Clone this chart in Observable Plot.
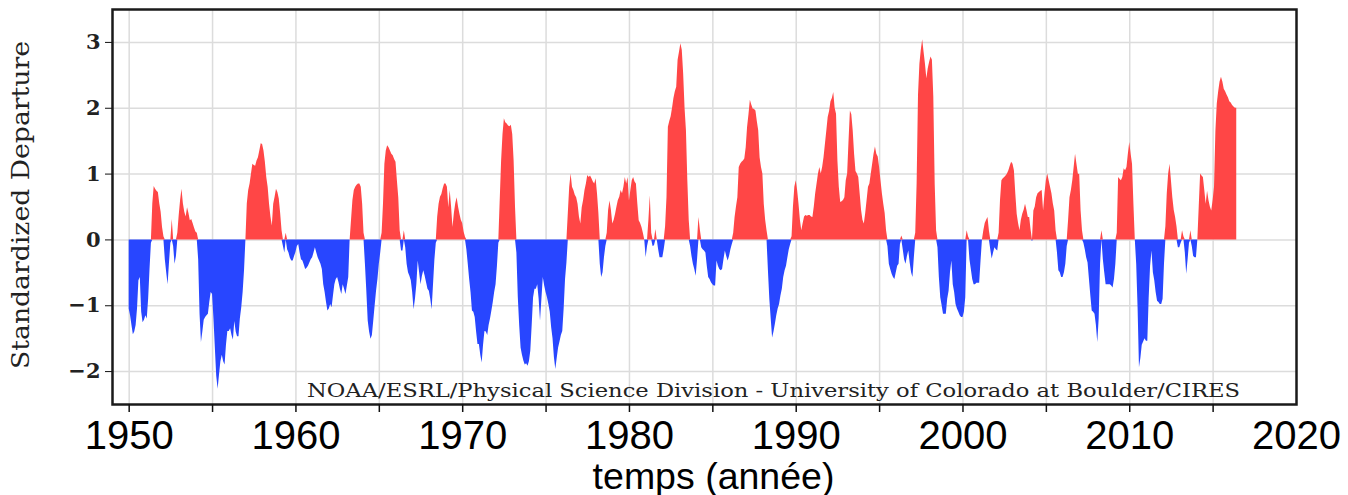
<!DOCTYPE html>
<html>
<head>
<meta charset="utf-8">
<script src="https://cdn.jsdelivr.net/npm/d3@7"></script>
<script src="https://cdn.jsdelivr.net/npm/@observablehq/plot@0.6"></script>
<style>
  html, body { margin: 0; padding: 0; background: #fff; }
  #chart { width: 1348px; height: 495px; overflow: hidden; }
</style>
</head>
<body>
<div id="chart"></div>
<script>
// ---- Data (monthly standardized departures) ----
const startYear = 1950;

const mei1950s = [
  -1.05,-1.15,-1.30,-1.44,-1.40,-1.30,-1.05,-0.62,-0.57,-1.10,-1.26,-1.22, // 1950
  -1.15,-1.20,-0.90,-0.45,-0.05, 0.55, 0.81, 0.77, 0.74, 0.72, 0.55, 0.42, // 1951
   0.19, 0.05,-0.30,-0.50,-0.68,-0.35,-0.05, 0.31,-0.10,-0.37,-0.25, 0.10, // 1952
   0.37, 0.60, 0.77, 0.55, 0.42, 0.35, 0.49, 0.40, 0.29, 0.31, 0.25, 0.18, // 1953
   0.12, 0.10,-0.30,-1.13,-1.56,-1.40,-1.22,-1.18,-1.15,-1.13,-0.95,-0.80, // 1954
  -0.83,-1.20,-1.64,-2.07,-2.27,-2.05,-1.85,-1.75,-1.85,-1.90,-1.60,-1.39, // 1955
  -1.39,-1.35,-1.45,-1.52,-1.24,-1.40,-1.47,-1.47,-1.20,-1.03,-0.80,-0.47, // 1956
   0.00, 0.55, 0.75, 0.85, 1.00, 1.15, 1.13, 1.12, 1.20, 1.25, 1.35, 1.46, // 1957
   1.45, 1.35, 1.18, 0.95, 0.80, 0.54, 0.35, 0.21, 0.54, 0.65, 0.77, 0.72, // 1958
   0.62, 0.40, 0.14,-0.10,-0.20, 0.10,-0.15,-0.20,-0.28,-0.32,-0.32,-0.25  // 1959
];
const mei1960s = [
  -0.19,-0.10,-0.07,-0.20,-0.30,-0.32,-0.38,-0.45,-0.43,-0.40,-0.35,-0.30, // 1960
  -0.27,-0.20,-0.12,-0.20,-0.27,-0.32,-0.37,-0.45,-0.68,-0.80,-0.95,-1.08, // 1961
  -1.05,-0.98,-1.03,-0.85,-0.68,-0.60,-0.57,-0.65,-0.75,-0.83,-0.68,-0.75, // 1962
  -0.83,-0.70,-0.57, 0.00, 0.30, 0.60, 0.75, 0.80, 0.83, 0.85, 0.85, 0.80, // 1963
   0.54, 0.10,-0.37,-0.78,-1.23,-1.40,-1.51,-1.45,-1.23,-1.00,-0.78,-0.60, // 1964
  -0.37,-0.20, 0.10, 0.54, 1.15, 1.35, 1.43, 1.40, 1.35, 1.30, 1.28, 1.22, // 1965
   1.18, 0.90, 0.64, 0.14,-0.17,-0.17, 0.14,-0.12,-0.37,-0.50,-0.55,-0.62, // 1966
  -0.80,-1.06,-0.90,-0.68,-0.32,-0.50,-0.68,-0.55,-0.47,-0.55,-0.65,-0.75, // 1967
  -0.78,-0.90,-1.06,-0.68,-0.30,-0.05, 0.35, 0.54, 0.65, 0.69, 0.78, 0.85, // 1968
   0.85, 0.80, 0.49, 0.75, 0.50, 0.19, 0.40, 0.55, 0.64, 0.50, 0.39, 0.30  // 1969
];
const mei1970s = [
   0.25, 0.12, 0.04,-0.15,-0.37,-0.60,-0.80,-1.08,-1.10,-1.18,-1.40,-1.59, // 1970
  -1.59,-1.75,-1.87,-1.60,-1.39,-1.40,-1.45,-1.30,-1.20,-1.08,-0.95,-0.80, // 1971
  -0.68,-0.40,-0.05, 0.60, 1.20, 1.60, 1.84, 1.78, 1.76, 1.73, 1.72, 1.74, // 1972
   1.60, 1.20, 0.50,-0.20,-0.87,-1.30,-1.64,-1.75,-1.84,-1.90,-1.88,-1.92, // 1973
  -1.85,-1.69,-1.30,-0.88,-0.75,-0.75,-0.68,-0.90,-1.23,-0.90,-0.57,-0.70, // 1974
  -0.80,-0.88,-0.98,-1.10,-1.33,-1.50,-1.79,-1.97,-1.80,-1.64,-1.55,-1.45, // 1975
  -1.39,-1.05,-0.60,-0.35, 0.40, 0.80, 1.00, 0.80, 0.75, 0.68, 0.64, 0.54, // 1976
   0.35, 0.24, 0.49, 0.60, 0.75, 0.85, 0.98, 0.95, 0.97, 0.93, 0.88, 0.85, // 1977
   0.93, 0.70, 0.40,-0.37,-0.57,-0.50,-0.27,-0.10, 0.10, 0.45, 0.59, 0.45, // 1978
   0.24, 0.30, 0.39, 0.50, 0.60, 0.65, 0.75, 0.70, 0.80, 0.95, 0.85, 0.95  // 1979
];
const mei1980s = [
   0.59, 0.75, 0.90, 0.95, 0.88, 0.85, 0.55, 0.29, 0.25, 0.19, 0.10, 0.00, // 1980
  -0.27,-0.10, 0.30, 0.67, 0.10,-0.10,-0.09, 0.16, 0.00,-0.15,-0.27,-0.27, // 1981
  -0.27,-0.15, 0.20, 0.64, 1.71, 1.80, 1.87, 2.00, 2.15, 2.25, 2.32, 2.73, // 1982
   2.85, 2.98, 2.88, 2.52, 2.00, 1.66, 0.90, 0.30,-0.10,-0.25,-0.37,-0.45, // 1983
  -0.55,-0.30, 0.34, 0.15,-0.12,-0.15,-0.17,-0.20,-0.40,-0.57,-0.60,-0.65, // 1984
  -0.68,-0.70,-0.70,-0.32,-0.40,-0.45,-0.47,-0.45,-0.30,-0.17,-0.25,-0.32, // 1985
  -0.25,-0.15,-0.07, 0.10, 0.34, 0.50, 0.64, 1.10, 1.15, 1.18, 1.20, 1.23, // 1986
   1.40, 1.71, 1.90, 2.12, 2.05, 1.99, 1.98, 1.96, 1.80, 1.66, 1.25, 1.10, // 1987
   1.00, 0.54, 0.30, 0.14,-0.47,-0.90,-1.20,-1.49,-1.40,-1.28,-1.15,-1.05, // 1988
  -0.98,-0.85,-0.75,-0.57,-0.47,-0.40,-0.27,-0.15,-0.07, 0.05, 0.50, 0.80  // 1989
];
const mei1990s = [
   0.90, 0.75, 0.54, 0.30, 0.14, 0.25, 0.35, 0.37, 0.36, 0.37, 0.37, 0.35, // 1990
   0.34, 0.50, 0.70, 0.85, 1.00, 1.10, 1.00, 1.10, 1.25, 1.45, 1.65, 1.86, // 1991
   1.95, 2.10, 2.15, 2.24, 2.00, 1.91, 1.20, 0.80, 0.57, 0.58, 0.60, 0.64, // 1992
   0.90, 1.00, 1.50, 1.96, 1.90, 1.66, 1.30, 1.04, 1.00, 0.95, 0.70, 0.45, // 1993
   0.30, 0.24, 0.40, 0.60, 0.80, 0.85, 1.00, 1.15, 1.30, 1.41, 1.30, 1.26, // 1994
   1.10, 0.90, 0.70, 0.54, 0.40, 0.14,-0.10,-0.37,-0.45,-0.52,-0.57,-0.60, // 1995
  -0.50,-0.40,-0.37,-0.07, 0.06,-0.15,-0.30,-0.37,-0.25,-0.17,-0.35,-0.50, // 1996
  -0.57,-0.27, 0.10, 0.85, 2.20, 2.67, 2.88, 3.04, 2.85, 2.67, 2.45, 2.60, // 1997
   2.70, 2.78, 2.73, 2.17, 0.85, 0.14,-0.12,-0.57,-0.88,-1.00,-1.13,-1.13, // 1998
  -1.13,-0.90,-0.78,-0.50,-0.32,-0.68,-0.80,-0.98,-1.05,-1.10,-1.15,-1.18  // 1999
];
const mei2000s = [
  -1.18,-1.10,-0.88, 0.14, 0.05,-0.30,-0.45,-0.60,-0.68,-0.68,-0.66,-0.66, // 2000
  -0.66,-0.32, 0.00, 0.14, 0.25, 0.30, 0.34, 0.14,-0.15,-0.29,-0.20,-0.12, // 2001
  -0.15,-0.17, 0.10, 0.60, 0.90, 0.93, 0.95, 0.97, 1.00, 1.05, 1.12, 1.18, // 2002
   1.15, 1.05, 0.70, 0.39, 0.25, 0.14, 0.30, 0.39, 0.45, 0.54, 0.45, 0.34, // 2003
   0.34, 0.15,-0.02, 0.44, 0.50, 0.64, 0.70, 0.72, 0.74, 0.75, 0.44, 0.70, // 2004
   0.90, 1.00, 0.90, 0.80, 0.70, 0.55, 0.44, 0.14,-0.20,-0.47,-0.50,-0.57, // 2005
  -0.57,-0.50,-0.37,-0.10, 0.30, 0.64, 0.75, 0.90, 1.10, 1.30, 1.15, 1.00, // 2006
   0.99, 0.44, 0.14,-0.05,-0.15,-0.27,-0.35,-0.60,-0.85,-1.08,-1.10,-1.13, // 2007
  -1.30,-1.56,-1.20,-0.37, 0.14,-0.30,-0.50,-0.68,-0.68,-0.68,-0.68,-0.70, // 2008
  -0.73,-0.60,-0.37, 0.10, 0.95, 0.92, 0.90, 0.95, 1.08, 1.05, 1.10, 1.30  // 2009
];
const mei2010s = [
   1.48, 1.30, 1.15, 0.54, 0.00,-0.37,-1.03,-1.94,-1.80,-1.60,-1.55,-1.50, // 2010
  -1.54,-1.54,-0.88,-0.40,-0.17,-0.50,-0.62,-0.80,-0.93,-0.95,-0.98,-0.98, // 2011
  -0.90,-0.37, 0.20, 0.70, 1.00, 1.15, 0.90, 0.64, 0.45, 0.34, 0.20,-0.12, // 2012
  -0.12,-0.05, 0.14, 0.05,-0.20,-0.52,-0.30,-0.05, 0.14,-0.10,-0.25,-0.27, // 2013
  -0.27, 0.00, 0.50, 1.00, 0.97, 0.95, 0.75, 0.54, 0.74, 0.60, 0.50, 0.44, // 2014
   0.60, 0.80, 1.65, 2.07, 2.25, 2.40, 2.47, 2.40, 2.29, 2.25, 2.20, 2.16, // 2015
   2.10, 2.08, 2.04, 2.02, 2.00, 2.00                                      // 2016
];

const gridYears  = [1950, 1955, 1960, 1965, 1970, 1975, 1980, 1985, 1990, 1995, 2000, 2005, 2010, 2015];
const labelYears = [1950, 1960, 1970, 1980, 1990, 2000, 2010, 2020];
const yTicks     = [-2, -1, 0, 1, 2, 3];
const yLabel  = "Standardized Departure";
const xLabel  = "temps (année)";
const credit  = "NOAA/ESRL/Physical Science Division - University of Colorado at Boulder/CIRES";

// ---- Build table ----
const values = [...mei1950s, ...mei1960s, ...mei1970s, ...mei1980s, ...mei1990s, ...mei2000s, ...mei2010s];
const data = values.map((v, i) => ({t: startYear + i / 12, v}));

const RED = "#ff4646";
const BLUE = "#2846ff";
const GRID = "#dcdcdc";
const serif = "'DejaVu Serif', 'Liberation Serif', serif";
const sans = "'Liberation Sans', Arial, sans-serif";

const chart = Plot.plot({
  width: 1348,
  height: 495,
  marginLeft: 112,
  marginRight: 52,
  marginTop: 9,
  marginBottom: 91,
  style: {background: "#fff", color: "#111", fontFamily: sans, overflow: "visible"},
  x: {domain: [1949, 2020], label: null},
  y: {domain: [-2.5, 3.5], label: null},
  marks: [
    Plot.gridX(gridYears, {stroke: GRID, strokeOpacity: 1, strokeWidth: 1.5}),
    Plot.gridY(yTicks, {stroke: GRID, strokeOpacity: 1, strokeWidth: 1.5}),
    Plot.areaY(data, {x: "t", y1: 0, y2: d => Math.min(d.v, 0), fill: BLUE}),
    Plot.areaY(data, {x: "t", y1: 0, y2: d => Math.max(d.v, 0), fill: RED}),
    Plot.frame({stroke: "#1a1a1a", strokeWidth: 2.5}),
    Plot.axisY({ticks: yTicks, tickSize: 7, tickPadding: 5, fontSize: 21, fontFamily: serif, fontWeight: "bold", fill: "#222",
                tickFormat: d => d < 0 ? "\u2212" + (-d) : String(d), label: null}),
    Plot.axisX({ticks: gridYears, tickSize: 8, tickFormat: () => "", label: null, strokeWidth: 1.5}),
    Plot.axisX({ticks: labelYears, tickSize: 0, tickPadding: 16, fontSize: 40, fontFamily: sans, fill: "#000", tickFormat: d => String(d), label: null}),
    Plot.text([yLabel], {frameAnchor: "left", textAnchor: "middle", dx: -91, dy: -2, rotate: -90, fontSize: 24, fontFamily: serif, fill: "#222"}),
    Plot.text([credit], {frameAnchor: "bottom", textAnchor: "middle", dx: 69, dy: -8, lineAnchor: "bottom", fontSize: 18, fontFamily: serif, fill: "#222"}),
    Plot.text([xLabel], {frameAnchor: "bottom", textAnchor: "middle", dx: 9, dy: 84, lineAnchor: "bottom", fontSize: 37.5, fontFamily: sans, fill: "#000"})
  ]
});

// stretch the serif texts to the lengths they span in the picture
chart.querySelectorAll("text").forEach(t => {
  if (t.textContent === credit) { t.setAttribute("textLength", 933); t.setAttribute("lengthAdjust", "spacingAndGlyphs"); }
  if (t.textContent === yLabel) { t.setAttribute("textLength", 328); t.setAttribute("lengthAdjust", "spacingAndGlyphs"); }
});

document.getElementById("chart").appendChild(chart);
</script>
</body>
</html>
